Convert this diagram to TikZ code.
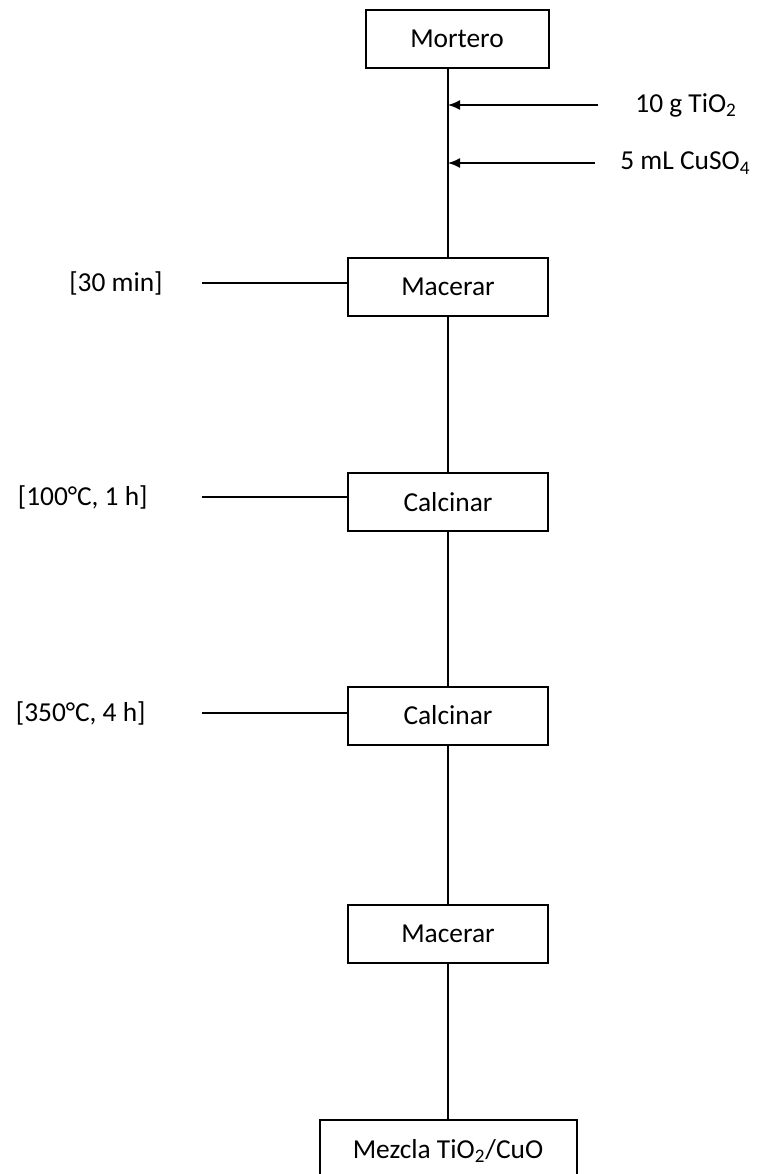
\documentclass[tikz,border=0pt]{standalone}
\usepackage{fontspec}
\setmainfont{Carlito}
\usetikzlibrary{positioning}
\usetikzlibrary{arrows.meta}

\tikzset{
	paso/.style={rectangle, draw, line width=1pt, minimum width=100pt, minimum height=29pt, inner sep=0pt},
	cond/.style={inner sep=0pt},
	flecha/.style={line width=0.8pt, -{Latex[length=6pt,width=5pt]}},
	linea/.style={line width=0.8pt}
}

\begin{document}
\begin{tikzpicture}[x=0.5pt, y=-0.5pt, font=\fontsize{13.7}{16}\selectfont]
				\useasboundingbox (0,0) rectangle (756,1174);
				
				\node[paso, minimum width=91.5pt] (mortero) at (457,39) {Mortero};
				\node[paso] (mac1) at (448,287) {Macerar};
				\node[paso] (cal1) at (448,502) {Calcinar};
				\node[paso] (cal2) at (448,715.5) {Calcinar};
				\node[paso] (mac2) at (448,933.5) {Macerar};
				\node[paso, minimum width=128.5pt, minimum height=31pt] (mezcla) at (448,1151) {Mezcla TiO\textsubscript{2}/CuO};
				
				\node[cond, anchor=west] (tio2) at (635,105) {10 g TiO\textsubscript{2}};
				\node[cond, anchor=west] (cuso4) at (620,163) {5 mL CuSO\textsubscript{4}};
				\node[cond, anchor=east] (t1) at (163,283) {[30 min]};
				\node[cond, anchor=east] (t2) at (148,497) {[100°C, 1 h]};
				\node[cond, anchor=east] (t3) at (146,713) {[350°C, 4 h]};
				
				\draw[linea]  (mortero.south -| mac1) -- (mac1.north);
				\draw[linea]  (mac1) -- (cal1);
				\draw[linea]  (cal1) -- (cal2);
				\draw[linea]  (cal2) -- (mac2);
				\draw[linea]  (mac2) -- (mezcla);
				
				\draw[flecha]  ([xshift=-18.5pt]tio2.west) -- (tio2.west -| mac1);
				\draw[flecha]  ([xshift=-12.5pt]cuso4.west) -- (cuso4.west -| mac1);
				
				\draw[linea]  ([xshift=19.5pt]t1.east) -- (t1.east -| mac1.west);
				\draw[linea]  ([xshift=27pt]t2.east) -- (t2.east -| cal1.west);
				\draw[linea]  ([xshift=28pt]t3.east) -- (t3.east -| cal2.west);
			\end{tikzpicture}
\end{document}
